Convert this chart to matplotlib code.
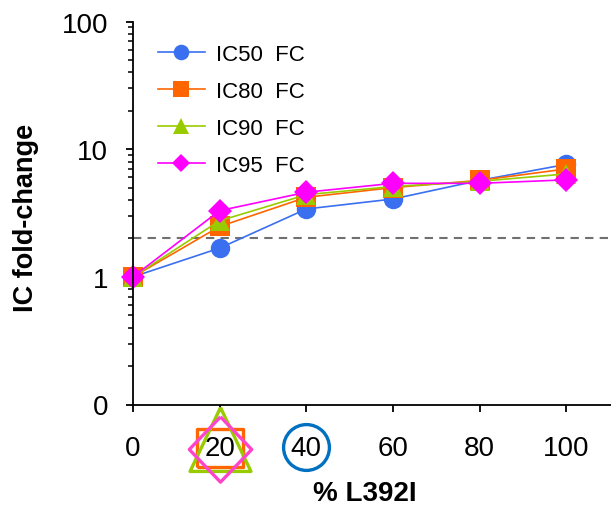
import matplotlib
matplotlib.use("Agg")
import matplotlib.pyplot as plt
from matplotlib.ticker import FixedLocator, FixedFormatter, LogLocator, NullFormatter

plt.rcParams['font.family'] = ['Liberation Sans', 'DejaVu Sans']

# Data
pct = [0, 20, 40, 60, 80, 100]
ic50 = [1, 1.68, 3.4, 4.07, 5.7, 7.6]
ic80 = [1, 2.48, 4.2, 5.0, 5.7, 7.0]
ic90 = [1, 2.75, 4.4, 5.1, 5.6, 6.4]
ic95 = [1, 3.3, 4.6, 5.4, 5.4, 5.75]
labels = ["IC50  FC", "IC80  FC", "IC90  FC", "IC95  FC"]
threshold = 2
yticks = [0.1, 1, 10, 100]
yticklabels = ["0", "1", "10", "100"]
xticks = [0, 20, 40, 60, 80, 100]
highlight_20 = 20
highlight_40 = 40

colors = ["#3A6FF0", "#FF6600", "#99CC00", "#FF00FF"]
markers = ["o", "s", "^", "D"]
msizes = [14, 14, 14, 12]

fig = plt.figure(figsize=(6.11, 5.06), dpi=100)
ax = fig.add_axes([133/611, (506-405.5)/506, 1 - 133/611, (405.5-22.5)/506])

for vals, c, m, ms, lab in zip([ic50, ic80, ic90, ic95], colors, markers, msizes, labels):
    ax.plot(pct, vals, color=c, marker=m, markersize=ms, markeredgewidth=0,
            linewidth=1.2, label=lab, clip_on=False)

ax.axhline(threshold, color="#707070", linestyle=(0, (4, 3)), linewidth=1.5, zorder=0)

ax.set_yscale("log")
ax.set_ylim(0.1, 100)
ax.set_xlim(0, 110.3)
ax.yaxis.set_major_locator(FixedLocator(yticks))
ax.yaxis.set_major_formatter(FixedFormatter(yticklabels))
ax.yaxis.set_minor_locator(LogLocator(base=10, subs=range(2, 10)))
ax.yaxis.set_minor_formatter(NullFormatter())
ax.set_xticks(xticks)
ax.set_xticklabels([str(x) for x in xticks])

for s in ["top", "right"]:
    ax.spines[s].set_visible(False)
for s in ["left", "bottom"]:
    ax.spines[s].set_linewidth(1.3)

ax.tick_params(axis="y", which="major", direction="out", length=5, width=1.3,
               labelsize=20, pad=13)
ax.tick_params(axis="y", which="minor", direction="out", length=3.5, width=1.1)
ax.tick_params(axis="x", which="major", direction="out", length=5, width=1.3,
               labelsize=20, pad=17)

ax.set_ylabel("IC fold-change", fontsize=19.5, fontweight="bold")
ax.yaxis.set_label_coords(-0.197, 0.49)
ax.set_xlabel("% L392I", fontsize=20, fontweight="bold")
ax.xaxis.set_label_coords(0.486, -0.198)

leg = ax.legend(loc="upper left", bbox_to_anchor=(0.02, 0.982), frameon=False,
                fontsize=16, handlelength=2.1, handletextpad=0.5,
                labelspacing=0.72, markerscale=0.8, borderaxespad=0.3)

# Highlight markers around x tick labels
xt = ax.get_xaxis_transform()
rect = [(-23, -19.5), (23, -19.5), (23, 19.5), (-23, 19.5), (-23, -19.5)]
tri = [(0, 32), (-30.5, -32), (30.5, -32), (0, 32)]
dia = [(0, 33.5), (32, 0), (0, -33.5), (-32, 0), (0, 33.5)]
ax.plot([highlight_20], [-0.114], transform=xt, marker=rect, markersize=33,
        markerfacecolor="none", markeredgecolor="#FF6600", markeredgewidth=2.4,
        linestyle="none", clip_on=False)
ax.plot([highlight_20], [-0.09], transform=xt, marker=tri, markersize=46,
        markerfacecolor="none", markeredgecolor="#99CC00", markeredgewidth=2.4,
        linestyle="none", clip_on=False)
ax.plot([highlight_20], [-0.117], transform=xt, marker=dia, markersize=47,
        markerfacecolor="none", markeredgecolor="#FF44CC", markeredgewidth=2.4,
        linestyle="none", clip_on=False)
ax.plot([highlight_40], [-0.111], transform=xt, marker="o", markersize=33,
        markerfacecolor="none", markeredgecolor="#0070C0", markeredgewidth=2.4,
        linestyle="none", clip_on=False)

fig.savefig("out.png", dpi=100)
